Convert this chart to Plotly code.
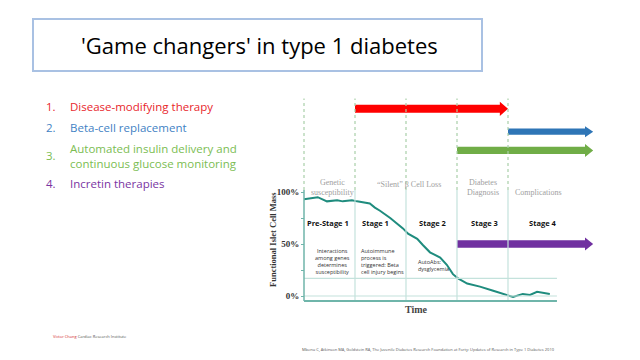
import plotly.graph_objects as go

# ---------------- data ----------------
time_pts = [0, 0.27, 0.45, 0.65, 0.76, 0.94, 1.04, 1.29, 1.39, 1.49, 1.69, 1.82, 1.94, 2.04,
            2.22, 2.33, 2.47, 2.67, 2.80, 2.92, 3.02, 3.2, 3.45, 3.71, 4.04, 4.1, 4.29, 4.43,
            4.57, 4.82]
mass_pts = [93, 95, 91, 92, 91, 92, 91, 89, 85, 82, 75, 70, 65, 60,
            55, 49, 42, 37, 30, 21, 17, 12, 9, 5, 0, -1, 2, 1,
            4, 2]

stage_bounds = [0, 1, 2, 3, 4]
axis_end = 4.96
y_ticks = [0, 25, 50, 75, 100]
y_tick_text = ["<b>0%</b>", "", "<b>50%</b>", "", "<b>100%</b>"]
ref_levels = [0, 17]

phase_labels = ["Genetic<br>susceptibility", "\u201cSilent\u201d \u03b2 Cell Loss",
                "Diabetes<br>Diagnosis", "Complications"]
phase_x = [0.55, 2.05, 3.5, 4.6]
phase_y = [104, 107, 104, 100]

stage_labels = ["Pre-Stage 1", "Stage 1", "Stage 2", "Stage 3", "Stage 4"]
stage_x = [0.47, 1.4, 2.53, 3.53, 4.68]
stage_y = 70

desc_labels = ["Interactions<br>among genes<br>determines<br>susceptibility",
               "Autoimmune<br>process is<br>triggered: Beta<br>cell injury begins",
               "AutoAbs:<br>dysglycemia"]
desc_x = [0.55, 1.08, 2.2]
desc_y = [33.6, 33.6, 29]
desc_align = ["center", "left", "left"]

# arrows: game changers
arrow_names = ["Disease-modifying therapy", "Beta-cell replacement",
               "Automated insulin delivery", "Incretin therapies"]
arrow_start = [1, 4, 3, 3]
arrow_end = [4, 5.67, 5.67, 5.67]
arrow_level = [180, 158, 140, 50]
arrow_colors = ["#ff0000", "#2e75b6", "#70ad47", "#7030a0"]
arrow_shaft = [7.7, 6.0, 7.0, 7.0]

list_nums = ["1.", "2.", "3.", "4."]
list_text = ["Disease-modifying therapy", "Beta-cell replacement",
             "Automated insulin delivery and<br>continuous glucose monitoring",
             "Incretin therapies"]
list_colors = ["#e8262c", "#3f82c4", "#7bbd52", "#7a35a2"]
list_y_px = [106, 127, 155.5, 183]

# ---------------- figure ----------------
W, H = 640, 360
X0PX, UNIT = 304, 51.0          # pixel of stage 0, px per stage
Y0PX, VUNIT = 296, 1.04          # pixel of 0%, px per %
xr = [(-X0PX) / UNIT, (W - X0PX) / UNIT]
yr = [(Y0PX - H) / VUNIT, Y0PX / VUNIT]

TEAL = "#1f8c7e"
AXIS = "#6fb5aa"
DIV = "#c4e2dc"
DOT = "#a9cfa9"

fig = go.Figure()

# arrows as filled polygons
head_len = 0.16
for s, e, lv, c, sh, nm in zip(arrow_start, arrow_end, arrow_level, arrow_colors, arrow_shaft, arrow_names):
    hh = sh * 0.78
    xs = [s, e - head_len, e - head_len, e, e - head_len, e - head_len, s, s]
    ys = [lv + sh / 2, lv + sh / 2, lv + sh / 2 + hh * 0.5, lv, lv - sh / 2 - hh * 0.5,
          lv - sh / 2, lv - sh / 2, lv + sh / 2]
    fig.add_trace(go.Scatter(x=xs, y=ys, mode="lines", fill="toself", fillcolor=c,
                             line=dict(width=0, color=c), name=nm, hoverinfo="skip",
                             showlegend=False))

# curve
fig.add_trace(go.Scatter(x=time_pts, y=mass_pts, mode="lines",
                         line=dict(color=TEAL, width=2), showlegend=False,
                         name="Functional islet cell mass"))

shapes = []
bottom = -4.8
for b in stage_bounds:
    shapes.append(dict(type="line", xref="x", yref="y", x0=b, x1=b, y0=102, y1=190,
                       line=dict(color=DOT, width=1.2, dash="dot")))
    if b > 0:
        shapes.append(dict(type="line", xref="x", yref="y", x0=b, x1=b, y0=bottom, y1=102,
                           line=dict(color=DIV, width=1.2)))
for lv in ref_levels:
    shapes.append(dict(type="line", xref="x", yref="y", x0=0, x1=axis_end, y0=lv, y1=lv,
                       line=dict(color=DIV, width=1.2)))
shapes.append(dict(type="line", xref="x", yref="y", x0=0, x1=0, y0=bottom, y1=102,
                   line=dict(color=AXIS, width=1.5)))
shapes.append(dict(type="line", xref="x", yref="y", x0=0, x1=axis_end, y0=bottom, y1=bottom,
                   line=dict(color=AXIS, width=2)))
# title box
shapes.append(dict(type="rect", xref="paper", yref="paper", x0=33 / W, x1=482 / W,
                   y0=1 - 71 / H, y1=1 - 19 / H, line=dict(color="#a9c1e3", width=2),
                   fillcolor="rgba(0,0,0,0)"))

ann = []
SERIF = "Liberation Serif"
SANS = "Open Sans"
ann.append(dict(text="'Game changers' in type 1 diabetes", xref="paper", yref="paper",
                x=259 / W, y=1 - 45 / H, showarrow=False, xanchor="center", yanchor="middle",
                font=dict(family=SANS, size=22, color="#000")))
for t, x, y in zip(phase_labels, phase_x, phase_y):
    ann.append(dict(text=t, x=x, y=y, xref="x", yref="y", showarrow=False,
                    font=dict(family=SERIF, size=8, color="#a0a0a0")))
for t, x in zip(stage_labels, stage_x):
    ann.append(dict(text="<b>%s</b>" % t, x=x, y=stage_y, xref="x", yref="y", showarrow=False,
                    font=dict(family=SANS, size=7.5, color="#111")))
for t, x, y, al in zip(desc_labels, desc_x, desc_y, desc_align):
    ann.append(dict(text=t, x=x, y=y, xref="x", yref="y", showarrow=False, align=al,
                    xanchor="center" if al == "center" else "left",
                    font=dict(family=SANS, size=5.5, color="#333")))
ann.append(dict(text="<b>Functional Islet Cell Mass</b>", x=273 / W, y=1 - 240 / H,
                xref="paper", yref="paper", textangle=-90, showarrow=False,
                font=dict(family=SERIF, size=8.5, color="#333")))
ann.append(dict(text="<b>Time</b>", x=430 / W, y=1 - 309 / H, xref="paper", yref="paper",
                yanchor="middle", showarrow=False, font=dict(family=SERIF, size=10, color="#444")))
for n, t, c, y in zip(list_nums, list_text, list_colors, list_y_px):
    ann.append(dict(text=n, x=44 / W, y=1 - y / H, xref="paper", yref="paper", showarrow=False,
                    xanchor="left", yanchor="middle", font=dict(family=SANS, size=11.5, color=c)))
    ann.append(dict(text=t, x=68 / W, y=1 - y / H, xref="paper", yref="paper", showarrow=False,
                    xanchor="left", yanchor="middle", align="left",
                    font=dict(family=SANS, size=11.5, color=c)))
ann.append(dict(text="<span style='color:#d0202a'>Victor Chang</span> Cardiac Research Institute",
                x=51 / W, y=1 - 341 / H, xref="paper", yref="paper", showarrow=False,
                xanchor="left", font=dict(family=SANS, size=4, color="#555")))
ann.append(dict(text="Mbenu C, Atkinson MA, Goldstein RA, The Juvenile Diabetes Research Foundation at Forty: Updates of Research in Type 1 Diabetes 2010",
                x=557 / W, y=1 - 354 / H, xref="paper", yref="paper", showarrow=False,
                xanchor="right", font=dict(family=SANS, size=4, color="#555")))

fig.update_layout(
    width=W, height=H, margin=dict(l=0, r=0, t=0, b=0),
    paper_bgcolor="white", plot_bgcolor="white",
    xaxis=dict(range=xr, visible=False, fixedrange=True),
    yaxis=dict(range=yr, anchor="free", position=X0PX / W, showgrid=False, zeroline=False,
               showline=False, tickvals=y_ticks, ticktext=y_tick_text, ticks="outside",
               ticklen=3, tickcolor=AXIS,
               tickfont=dict(family=SERIF, size=9, color="#333"), fixedrange=True),
    shapes=shapes, annotations=ann, showlegend=False,
)

fig.write_html("out.html", config={"displayModeBar": False},
               post_script="document.body.style.margin='0';document.body.style.overflow='hidden';")
